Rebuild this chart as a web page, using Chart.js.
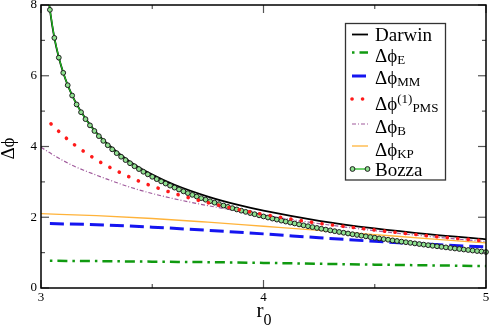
<!DOCTYPE html>
<html><head><meta charset="utf-8">
<script src="https://cdn.jsdelivr.net/npm/chart.js@4.4.0/dist/chart.umd.min.js"></script>
<style>html,body{margin:0;padding:0;background:#fff;}canvas{display:block;}</style>
</head><body>
<canvas id="c" width="491" height="327"></canvas>
<script>
// ---- data (r0 in units of M, deflection Δϕ in radians) ----
const rBozza = [3.035,
 3.04,3.06,3.08,3.10,3.12,3.14,3.16,3.18,3.20,
 3.22,3.24,3.26,3.28,3.30,3.32,3.34,3.36,3.38,3.40,
 3.42,3.44,3.46,3.48,3.50,3.52,3.54,3.56,3.58,3.60,
 3.62,3.64,3.66,3.68,3.70,3.72,3.74,3.76,3.78,3.80,
 3.82,3.84,3.86,3.88,3.90,3.92,3.94,3.96,3.98,4.00,
 4.02,4.04,4.06,4.08,4.10,4.12,4.14,4.16,4.18,4.20,
 4.22,4.24,4.26,4.28,4.30,4.32,4.34,4.36,4.38,4.40,
 4.42,4.44,4.46,4.48,4.50,4.52,4.54,4.56,4.58,4.60,
 4.62,4.64,4.66,4.68,4.70,4.72,4.74,4.76,4.78,4.80,
 4.82,4.84,4.86,4.88,4.90,4.92,4.94,4.96,4.98,5.00];
const phiBozza = [8.127,
 7.864,7.070,6.512,6.082,5.733,5.441,5.189,4.969,4.774,
 4.598,4.439,4.293,4.159,4.035,3.920,3.812,3.711,3.616,3.527,
 3.442,3.362,3.286,3.213,3.144,3.077,3.014,2.953,2.894,2.838,
 2.784,2.732,2.681,2.633,2.586,2.540,2.496,2.453,2.412,2.371,
 2.332,2.294,2.257,2.221,2.186,2.152,2.118,2.086,2.054,2.023,
 1.992,1.963,1.934,1.905,1.878,1.850,1.824,1.798,1.772,1.747,
 1.722,1.698,1.675,1.651,1.629,1.606,1.584,1.562,1.541,1.520,
 1.500,1.479,1.460,1.440,1.421,1.402,1.383,1.365,1.346,1.329,
 1.311,1.294,1.276,1.260,1.243,1.226,1.210,1.194,1.179,1.163,
 1.148,1.132,1.117,1.103,1.088,1.074,1.059,1.045,1.031,1.018];

const rDarwin   = [3.035,3.04,3.06,3.08,3.10,3.12,3.15,3.20,3.25,3.30,3.40,3.50,3.60,3.75,3.90,4.00,4.25,4.50,4.75,5.00];
const phiDarwin = [8.128,7.865,7.072,6.514,6.085,5.737,5.320,4.789,4.385,4.064,3.572,3.206,2.918,2.585,2.326,2.184,1.899,1.683,1.514,1.377];

const rE   = [3.04,3.25,3.50,3.75,4.00,4.25,4.50,4.75,5.00];
const phiE = [0.77,0.76,0.745,0.73,0.71,0.685,0.66,0.64,0.62];

const rMM   = [3.04,3.25,3.50,3.75,4.00,4.25,4.50,4.75,5.00];
const phiMM = [1.82,1.79,1.72,1.63,1.53,1.42,1.32,1.235,1.16];

const rPMS   = [3.045,3.10,3.15,3.20,3.25,3.30,3.35,3.40,3.45,3.50,3.60,3.70,3.80,3.90,4.00,4.25,4.50,4.75,5.00];
const phiPMS = [4.64,4.31,4.05,3.83,3.62,3.44,3.28,3.13,2.995,2.88,2.67,2.49,2.34,2.20,2.08,1.83,1.64,1.47,1.33];

const rB   = [3.00,3.05,3.10,3.15,3.20,3.30,3.40,3.50,3.60,3.70,3.80,3.90,4.00,4.25,4.50,4.75,5.00];
const phiB = [3.98,3.78,3.60,3.44,3.31,3.07,2.85,2.67,2.52,2.39,2.27,2.16,2.06,1.82,1.62,1.455,1.31];

const rKP   = [3.00,3.25,3.50,3.75,4.00,4.25,4.50,4.75,5.00];
const phiKP = [2.10,2.045,1.965,1.86,1.745,1.63,1.51,1.39,1.275];

const xMajorTicks = [3,4,5];
const xMinorTicks = [3.5,4.5];
const yMajorTicks = [0,2,4,6,8];
const yMinorTicks = [1,3,5,7];

const xTitle = 'r';
const xTitleSub = '0';
const yTitle = 'Δϕ';

const legendKeys = ['Darwin','E','MM','PMS','B','KP','Bozza'];
const legendMain = ['Darwin','Δϕ','Δϕ','Δϕ','Δϕ','Δϕ','Bozza'];
const legendSup  = ['','','','(1)','','',''];
const legendSub  = ['','E','MM','PMS','B','KP',''];

// ---- chart ----
const pts = (rs, vs) => rs.map((r, i) => ({x: r, y: vs[i]}));
const SERIF = '"Liberation Serif","DejaVu Serif",serif';

const datasets = [
  {label:'PMS', data:pts(rPMS,phiPMS), borderColor:'#ff1a1a', borderWidth:3.6, borderDash:[0.1,10.4], borderCapStyle:'round', pointRadius:0, cubicInterpolationMode:'monotone'},
  {label:'Bozza', data:pts(rBozza,phiBozza), borderColor:'#20b820', borderWidth:1.3, tension:0,
   pointRadius: phiBozza.map((v,i)=> i===0 ? 0 : 2.4), pointBorderColor:'#1e1e1e', pointBackgroundColor:'#8fe08f', pointBorderWidth:1,
   clip:{left:0,top:0,right:4,bottom:0}},
  {label:'B', data:pts(rB,phiB), borderColor:'#a05a9c', borderWidth:1.2, borderDash:[4,2,1,2], pointRadius:0, cubicInterpolationMode:'monotone'},
  {label:'Darwin', data:pts(rDarwin,phiDarwin), borderColor:'#000000', borderWidth:1.8, pointRadius:0, cubicInterpolationMode:'monotone'},
  {label:'KP', data:pts(rKP,phiKP), borderColor:'#ffb33a', borderWidth:1.3, pointRadius:0, cubicInterpolationMode:'monotone'},
  {label:'MM', data:pts(rMM,phiMM), borderColor:'#1515f0', borderWidth:3, borderDash:[14,6], pointRadius:0, cubicInterpolationMode:'monotone'},
  {label:'E', data:pts(rE,phiE), borderColor:'#109a10', borderWidth:2.5, borderDash:[2.5,5,10,5], pointRadius:0, cubicInterpolationMode:'monotone'}
];

const decor = {
  id: 'decor',
  beforeDraw(chart) {
    const c = chart.ctx; c.save(); c.fillStyle = '#fff'; c.fillRect(0,0,chart.width,chart.height); c.restore();
  },
  afterDraw(chart) {
    const c = chart.ctx, a = chart.chartArea, xs = chart.scales.x, ys = chart.scales.y;
    c.save();
    const seg = (x1,y1,x2,y2) => { c.beginPath(); c.moveTo(x1,y1); c.lineTo(x2,y2); c.stroke(); };
    c.strokeStyle = '#555'; c.lineWidth = 1.2;
    xMajorTicks.forEach(v => { const p = xs.getPixelForValue(v); seg(p,a.bottom,p,a.bottom-8); seg(p,a.top,p,a.top+8); });
    xMinorTicks.forEach(v => { const p = xs.getPixelForValue(v); seg(p,a.bottom,p,a.bottom-4); seg(p,a.top,p,a.top+4); });
    yMajorTicks.forEach(v => { const p = ys.getPixelForValue(v); seg(a.left,p,a.left+8,p); seg(a.right,p,a.right-8,p); });
    yMinorTicks.forEach(v => { const p = ys.getPixelForValue(v); seg(a.left,p,a.left+4,p); seg(a.right,p,a.right-4,p); });
    c.strokeStyle = '#000'; c.lineWidth = 1.5;
    c.strokeRect(a.left, a.top, a.right-a.left, a.bottom-a.top);

    // tick labels
    c.fillStyle = '#000';
    c.font = '13px ' + SERIF;
    c.textAlign = 'right'; c.textBaseline = 'middle';
    yMajorTicks.forEach(v => c.fillText(String(v), a.left-4, ys.getPixelForValue(v)));
    c.textAlign = 'center'; c.textBaseline = 'top';
    xMajorTicks.forEach(v => c.fillText(String(v), xs.getPixelForValue(v), a.bottom+3));

    // axis titles
    c.save();
    c.translate(13.5, (a.top+a.bottom)/2 + 2);
    c.rotate(-Math.PI/2);
    c.font = '19px ' + SERIF; c.textAlign = 'center'; c.textBaseline = 'alphabetic';
    c.fillText(yTitle, 0, 0);
    c.restore();
    c.textAlign = 'left'; c.textBaseline = 'alphabetic';
    c.font = '21px ' + SERIF;
    const xt = (a.left + a.right)/2 - 7;
    c.fillText(xTitle, xt, 317);
    const rw = c.measureText(xTitle).width;
    c.font = '16px ' + SERIF;
    c.fillText(xTitleSub, xt + rw, 325);

    // legend
    const L = {x1:345.5, y1:23.5, x2:445.5, y2:180};
    c.fillStyle = '#fff'; c.fillRect(L.x1, L.y1, L.x2-L.x1, L.y2-L.y1);
    c.strokeStyle = '#333'; c.lineWidth = 1.3; c.strokeRect(L.x1, L.y1, L.x2-L.x1, L.y2-L.y1);
    const sampleY = [34.5, 52.5, 76, 99, 124, 146, 169];
    const baseY   = [40.7, 61.7, 84, 109.5, 132.7, 155.7, 176];
    legendKeys.forEach((k, i) => {
      const ds = chart.data.datasets.find(d => d.label === k);
      const sy = sampleY[i];
      c.save();
      c.strokeStyle = ds.borderColor; c.lineWidth = ds.borderWidth;
      c.setLineDash(ds.borderDash || []); c.lineCap = ds.borderCapStyle || 'butt';
      seg(352, sy, 368, sy);
      c.restore();
      if (k === 'Bozza') {
        [352.5, 367.5].forEach(px => {
          c.beginPath(); c.arc(px, sy, 2.4, 0, Math.PI*2);
          c.fillStyle = ds.pointBackgroundColor; c.fill();
          c.strokeStyle = ds.pointBorderColor; c.lineWidth = 1; c.stroke();
        });
      }
      c.fillStyle = '#000';
      c.font = '19px ' + SERIF;
      c.fillText(legendMain[i], 375, baseY[i]);
      const mw = c.measureText(legendMain[i]).width;
      let sx = 375 + mw;
      c.font = '13px ' + SERIF;
      if (legendSup[i]) {
        c.fillText(legendSup[i], sx, baseY[i] - 7);
        sx += c.measureText(legendSup[i]).width;
      }
      if (legendSub[i]) {
        c.fillText(legendSub[i], sx, baseY[i] + 2);
      }
    });
    c.restore();
  }
};

new Chart(document.getElementById('c'), {
  type: 'line',
  data: { datasets },
  options: {
    responsive: false,
    animation: false,
    devicePixelRatio: 1,
    layout: { padding: { left: 41, right: 2, top: 4, bottom: 39 } },
    plugins: { legend: { display: false }, tooltip: { enabled: false } },
    scales: {
      x: { type: 'linear', min: 3, max: 5, display: false },
      y: { type: 'linear', min: 0, max: 8, display: false }
    }
  },
  plugins: [decor]
});
</script>
</body></html>
